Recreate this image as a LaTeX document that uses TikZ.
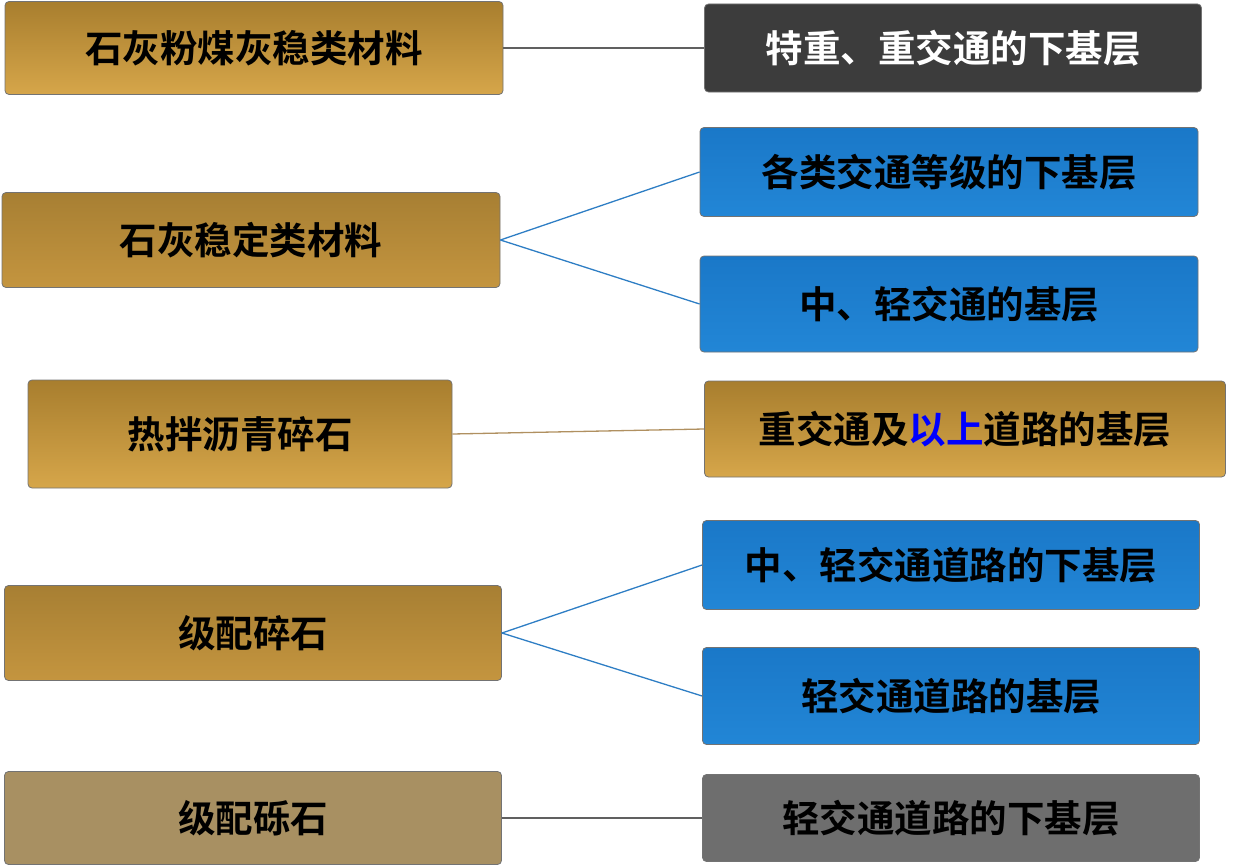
\documentclass[tikz,border=0pt]{standalone}
\usepackage{fontspec}
\setmainfont{Noto Sans CJK SC}[BoldFont={Noto Sans CJK SC Bold}]
\usetikzlibrary{positioning}
\definecolor{goldA}{HTML}{A87E2E}
\definecolor{goldB}{HTML}{D6A64A}
\definecolor{brownA}{HTML}{A77F33}
\definecolor{brownB}{HTML}{C4953F}
\definecolor{tan}{HTML}{A89062}
\definecolor{blueA}{HTML}{1A78C8}
\definecolor{blueB}{HTML}{2286D6}
\definecolor{darkbox}{HTML}{3C3C3C}
\definecolor{graybox}{HTML}{6E6E6E}
\definecolor{linkblue}{HTML}{2E7EC4}
\definecolor{linkgray}{HTML}{606060}
\definecolor{linktan}{HTML}{B09060}
\tikzset{
  box/.style={rounded corners=4pt, draw=black!55, line width=0.8pt,
    minimum height=#1, inner sep=0pt,
    font=\fontsize{37.5}{42}\selectfont\bfseries, text=black},
  box/.default=93pt,
  goldbox/.style={box, top color=goldA, bottom color=goldB},
  brownbox/.style={box, top color=brownA, bottom color=brownB},
  bluebox/.style={box=89pt, top color=blueA, bottom color=blueB},
  link/.style={line width=1.3pt}
}
\begin{document}
\begin{tikzpicture}[x=1pt,y=-1pt]
\useasboundingbox (0,0) rectangle (1234,867);
% left column
\node[goldbox, minimum width=498pt] (l1) at (254,48) {石灰粉煤灰稳类材料};
\node[brownbox, minimum width=498pt, minimum height=95pt] (l2) at (251,240) {石灰稳定类材料};
\node[goldbox, minimum width=424pt, minimum height=108pt] (l3) at (240,434) {热拌沥青碎石};
\node[brownbox, minimum width=497pt, minimum height=95pt] (l4) at (253,633) {级配碎石};
\node[box, fill=tan, minimum width=497pt] (l5) at (253,818) {级配砾石};
% right column
\node[box=88pt, fill=darkbox, text=white, minimum width=497pt] (r1) at (953,48) {特重、重交通的下基层};
\node[bluebox, minimum width=498pt] (r2a) at (949,172) {各类交通等级的下基层};
\node[bluebox, minimum width=498pt, minimum height=96pt] (r2b) at (949,304) {中、轻交通的基层};
\node[goldbox, minimum width=521pt, minimum height=96pt] (r3) at (965,429) {重交通及\textcolor{blue}{以上}道路的基层};
\node[bluebox, minimum width=497pt] (r4a) at (951,565) {中、轻交通道路的下基层};
\node[bluebox, minimum width=497pt, minimum height=97pt] (r4b) at (951,696) {轻交通道路的基层};
\node[box=87pt, fill=graybox, minimum width=497pt] (r5) at (951,818) {轻交通道路的下基层};
% connectors
\draw[link, linkgray] (l1.east) -- (r1.west);
\draw[link, linkblue] (l2.east) -- (r2a.west);
\draw[link, linkblue] (l2.east) -- (r2b.west);
\draw[link, linktan] (l3.east) -- (r3.west);
\draw[link, linkblue] (l4.east) -- (r4a.west);
\draw[link, linkblue] (l4.east) -- (r4b.west);
\draw[link, linkgray] (l5.east) -- (r5.west);
\end{tikzpicture}
\end{document}
